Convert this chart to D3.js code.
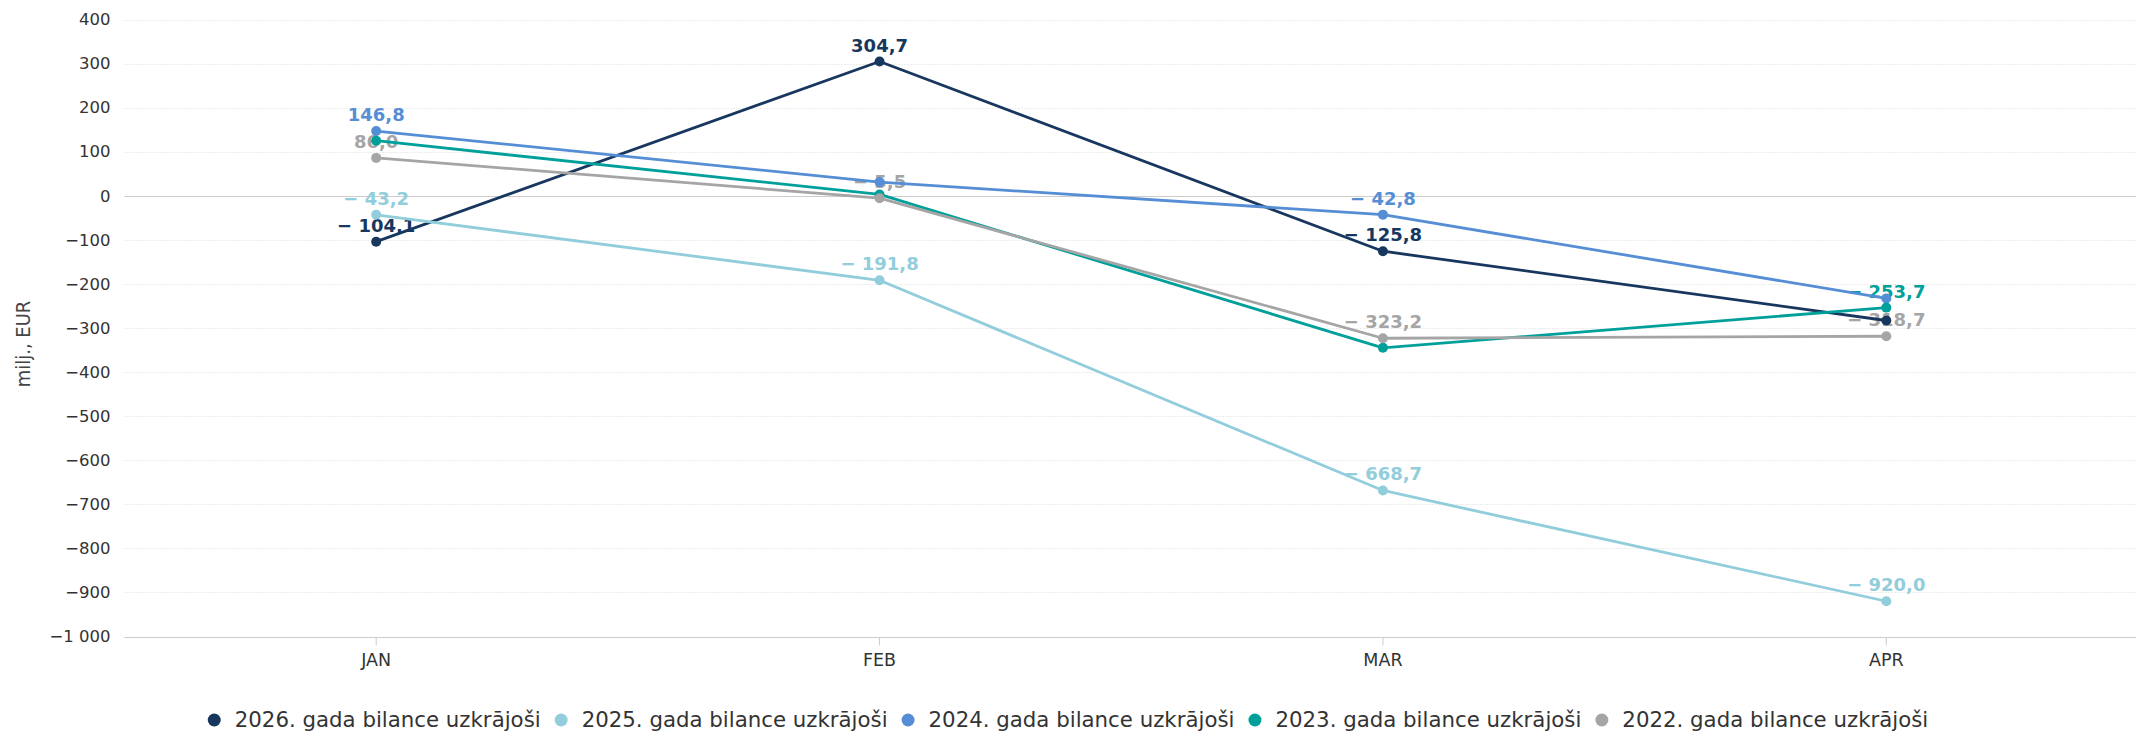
<!DOCTYPE html>
<html>
<head>
<meta charset="utf-8">
<script src="https://cdn.jsdelivr.net/npm/d3@7"></script>
<style>
  html, body { margin: 0; padding: 0; background: #fff; }
  svg { display: block; }
</style>
</head>
<body>
<svg id="chart" width="2136" height="733"></svg>
<script>
// ---- data ----
const categories = ["JAN", "FEB", "MAR", "APR"];
const seriesNames = [
  "2026. gada bilance uzkrājoši",
  "2025. gada bilance uzkrājoši",
  "2024. gada bilance uzkrājoši",
  "2023. gada bilance uzkrājoši",
  "2022. gada bilance uzkrājoši"
];
const values2026 = [-104.1, 304.7, -125.8, -283.0];
const values2025 = [-43.2, -191.8, -668.7, -920.0];
const values2024 = [146.8, 31.0, -42.8, -233.0];
const values2023 = [125.0, 3.0, -345.0, -253.7];
const values2022 = [86.0, -5.5, -323.2, -318.7];
// which data labels are visible (others hidden by overlap in the original)
const labels2026 = [true, true, true, false];
const labels2025 = [true, true, true, true];
const labels2024 = [true, false, true, false];
const labels2023 = [false, false, false, true];
const labels2022 = [true, true, true, true];
const yTicks = [400, 300, 200, 100, 0, -100, -200, -300, -400, -500, -600, -700, -800, -900, -1000];
const yTitle = "milj., EUR";
const colors = ["#17375e", "#92cddc", "#558ed5", "#00a09a", "#a5a5a5"];

const series = [
  { name: seriesNames[0], values: values2026, labels: labels2026, color: colors[0] },
  { name: seriesNames[1], values: values2025, labels: labels2025, color: colors[1] },
  { name: seriesNames[2], values: values2024, labels: labels2024, color: colors[2] },
  { name: seriesNames[3], values: values2023, labels: labels2023, color: colors[3] },
  { name: seriesNames[4], values: values2022, labels: labels2022, color: colors[4] }
];

// ---- layout ----
const W = 2136, H = 733;
const plot = { left: 124.5, right: 2138, top: 19.5, bottom: 636.5 };
const FONT = "'DejaVu Sans', sans-serif";

const svg = d3.select("#chart");

const x = d3.scaleBand().domain(categories).range([plot.left, plot.right]).padding(0);
const xc = c => x(c) + x.bandwidth() / 2;
const y = d3.scaleLinear().domain([-1000, 400]).range([plot.bottom, plot.top]);

function fmtTick(v) {
  const a = Math.abs(v);
  let s = String(a);
  if (a >= 1000) s = s.replace(/\B(?=(\d{3})+(?!\d))/g, "\u00a0");
  return (v < 0 ? "\u2212" : "") + s;
}
function fmtLabel(v) {
  const s = Math.abs(v).toFixed(1).replace(".", ",");
  return (v < 0 ? "\u2212 " : "") + s;
}

// grid lines
const grid = svg.append("g");
grid.selectAll("line").data(yTicks).join("line")
  .attr("x1", plot.left).attr("x2", W)
  .attr("y1", d => Math.round(y(d)) + 0.5).attr("y2", d => Math.round(y(d)) + 0.5)
  .attr("stroke", d => (d === 0 || d === -1000) ? "#cccccc" : "#d9d9d9")
  .attr("stroke-width", 1)
  .attr("stroke-dasharray", d => (d === 0 || d === -1000) ? null : "1,2");

// y axis labels
const yAxis = d3.axisLeft(y).tickValues(yTicks).tickFormat(fmtTick).tickSize(0).tickPadding(14);
const gy = svg.append("g").attr("transform", `translate(${plot.left},0)`).call(yAxis);
gy.select(".domain").remove();
gy.selectAll("text").attr("font-family", FONT).attr("font-size", 16.5).attr("fill", "#333");

// x axis
const xAxis = d3.axisBottom(x).tickSize(8).tickPadding(8);
const gx = svg.append("g").attr("transform", `translate(0,${Math.round(plot.bottom) + 0.5})`).call(xAxis);
gx.select(".domain").remove();
gx.selectAll("line").attr("stroke", "#cccccc");
gx.selectAll("text").attr("font-family", FONT).attr("font-size", 17.5).attr("fill", "#333").attr("dy", "0.71em");

// y title
svg.append("text")
  .attr("transform", `translate(30,344) rotate(-90)`)
  .attr("text-anchor", "middle")
  .attr("font-family", "'DejaVu Sans Condensed', 'DejaVu Sans', sans-serif")
  .attr("font-size", 20).attr("fill", "#444")
  .text(yTitle);

// data labels (drawn beneath lines)
const labG = svg.append("g");
series.forEach(s => {
  categories.forEach((c, i) => {
    if (!s.labels[i]) return;
    labG.append("text")
      .attr("x", xc(c)).attr("y", y(s.values[i]) - 10)
      .attr("text-anchor", "middle")
      .attr("font-family", FONT).attr("font-size", 18).attr("font-weight", "bold")
      .attr("fill", s.color)
      .text(fmtLabel(s.values[i]));
  });
});

// lines
const line = d3.line().x((d, i) => xc(categories[i])).y(d => y(d));
const lineG = svg.append("g");
series.forEach(s => {
  lineG.append("path").datum(s.values)
    .attr("d", line).attr("fill", "none")
    .attr("stroke", s.color).attr("stroke-width", 2.8)
    .attr("stroke-linejoin", "round").attr("stroke-linecap", "round");
});
// markers
const mG = svg.append("g");
series.forEach(s => {
  mG.selectAll(null).data(s.values).join("circle")
    .attr("cx", (d, i) => xc(categories[i])).attr("cy", d => y(d))
    .attr("r", 5).attr("fill", s.color);
});

// legend
const legG = svg.append("g");
const legY = 720;
const items = [];
series.forEach(s => {
  const g = legG.append("g");
  g.append("circle").attr("cx", 6.5).attr("cy", 0).attr("r", 6.5).attr("fill", s.color);
  const t = g.append("text").attr("x", 27).attr("y", 0).attr("dy", "0.35em")
    .attr("font-family", FONT).attr("font-size", 21.3).attr("fill", "#333")
    .text(s.name);
  const w = 27 + t.node().getComputedTextLength();
  items.push({ g, w });
});
const gap = 14;
const total = d3.sum(items, d => d.w) + gap * (items.length - 1);
let pos = (W - total) / 2;
items.forEach(it => {
  it.g.attr("transform", `translate(${pos},${legY})`);
  pos += it.w + gap;
});
</script>
</body>
</html>
